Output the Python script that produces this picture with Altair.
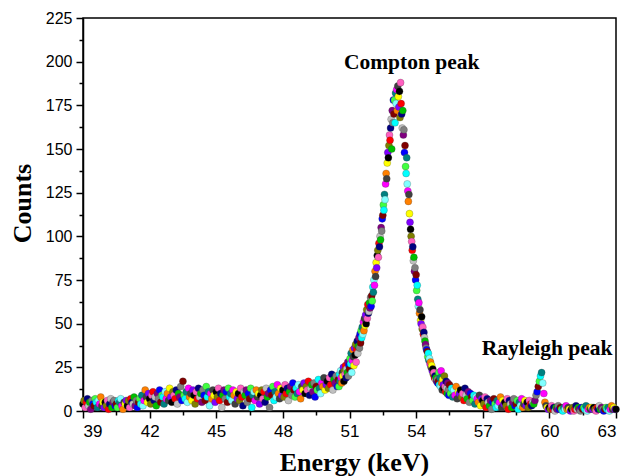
import altair as alt
import pandas as pd

# Counts
# 39.00 .. 50.45 keV, 0.05 keV channels
counts_low = [
    4, 6, 2, 5, 7, 3, 5, 1, 6, 4, 3, 7, 5, 2, 6, 4, 8, 3, 5, 2,
    5, 3, 6, 1, 4, 7, 2, 5, 6, 3, 4, 2, 6, 5, 7, 3, 1, 5, 4, 6,
    3, 6, 2, 7, 5, 4, 8, 3, 6, 2, 5, 7, 4, 9, 3, 6, 12, 8, 5, 10,
    7, 4, 9, 11, 6, 8, 3, 10, 7, 12, 5, 9, 8, 4, 11, 7, 10, 6, 13, 8,
    5, 11, 9, 7, 12, 4, 10, 8, 14, 6, 17, 9, 7, 11, 5, 13, 8, 10, 6, 12,
    9, 4, 11, 7, 13, 8, 10, 5, 12, 9, 6, 14, 8, 11, 3, 10, 7, 12, 9, 5,
    11, 8, 13, 6, 10, 2, 9, 12, 7, 11, 5, 13, 8, 10, 6, 12, 9, 4, 11, 7,
    10, 6, 13, 8, 3, 11, 9, 12, 5, 10, 7, 13, 2, 9, 11, 6, 12, 8, 10, 4,
    9, 12, 7, 11, 5, 13, 8, 10, 2, 12, 9, 14, 6, 11, 8, 15, 10, 7, 13, 9,
    12, 8, 15, 10, 13, 6, 11, 14, 9, 16, 12, 8, 13, 10, 15, 11, 7, 14, 12, 16,
    10, 14, 12, 17, 9, 13, 15, 11, 16, 8, 14, 12, 18, 13, 10, 16, 14, 19, 12, 15,
    17, 13, 19, 15, 21, 12, 18, 16, 20, 14,
]
# 50.500 .. 55.475 keV, 0.025 keV channels (Compton peak region)
counts_peak = [
    18, 14, 21, 17, 23, 19, 16, 22, 20, 25, 17, 23, 21, 26, 19, 24, 22, 28, 20, 26,
    24, 30, 27, 33, 22, 29, 35, 31, 26, 36, 32, 38, 28, 35, 40, 33, 37, 42, 36, 44,
    39, 46, 42, 48, 44, 51, 46, 53, 49, 55, 50, 58, 53, 61, 56, 57, 62, 59, 65, 60,
    66, 63, 71, 68, 75, 72, 80, 77, 85, 82, 89, 92, 88, 96, 94, 100, 98, 105, 103, 110,
    112, 118, 115, 124, 121, 130, 136, 133, 142, 148, 145, 152, 158, 155, 162, 167, 150, 172, 165, 178,
    170, 178, 165, 182, 176, 184, 172, 186, 180, 174, 183, 168, 188, 176, 170, 162, 172, 158, 161, 148,
    152, 140, 136, 145, 130, 126, 120, 124, 113, 108, 104, 100, 97, 92, 94, 86, 88, 80, 82, 75,
    78, 69, 72, 64, 60, 62, 56, 58, 52, 50, 54, 47, 48, 44, 45, 42, 40, 38, 36, 35,
    34, 31, 33, 29, 30, 27, 28, 25, 26, 23, 24, 21, 22, 19, 20, 18, 19, 17, 18, 16,
    17, 22, 15, 19, 14, 23, 16, 12, 18, 15, 13, 20, 14, 11, 17, 13, 10, 16, 12, 9,
]
# 55.50 .. 63.00 keV, 0.05 keV channels (incl. Rayleigh peak)
counts_high = [
    15, 10, 13, 8, 12, 9, 14, 7, 11, 10,
    12, 8, 10, 6, 13, 9, 7, 11, 5, 10, 8, 6, 9, 4, 8, 7, 5, 9, 3, 7,
    6, 4, 8, 2, 7, 5, 3, 6, 1, 5, 7, 4, 2, 6, 3, 5, 8, 2, 6, 4,
    5, 3, 7, 1, 6, 4, 2, 5, 7, 3, 4, 6, 1, 5, 3, 7, 2, 4, 6, 3,
    5, 2, 6, 4, 3, 5, 4, 6, 9, 11, 14, 17, 20, 22, 16, 10, 5, 3, 2, 1,
    2, 1, 3, 1, 2, 0, 2, 1, 3, 1, 2, 1, 0, 2, 1, 3, 1, 2, 1, 0,
    1, 2, 0, 1, 3, 1, 2, 1, 0, 2, 1, 2, 1, 3, 0, 1, 2, 1, 2, 1,
    2, 1, 0, 2, 1, 3, 1, 2, 1, 0, 1, 2, 1, 2, 0, 1, 3, 1, 2, 1,
    1,
]

x_ticks = [39, 42, 45, 48, 51, 54, 57, 60, 63]
x_minor = [40.5, 43.5, 46.5, 49.5, 52.5, 55.5, 58.5, 61.5]
y_ticks = [0, 25, 50, 75, 100, 125, 150, 175, 200, 225]
y_minor = [12.5, 37.5, 62.5, 87.5, 112.5, 137.5, 162.5, 187.5, 212.5]

ann_text = ["Compton peak", "Rayleigh peak"]
ann_e = [53.8, 59.9]
ann_c = [196, 32]

palette = ["#000000", "#FF0000", "#00C000", "#0000FF", "#00FFFF", "#FF00FF",
           "#FFFF00", "#808000", "#000080", "#800080", "#800000", "#008080",
           "#FF8000", "#8000FF", "#FF60C0", "#C0C0C0", "#808080", "#40FF40",
           "#80FFFF", "#404040"]

energies = ([round(39.0 + 0.05 * i, 3) for i in range(len(counts_low))]
            + [round(50.5 + 0.025 * i, 3) for i in range(len(counts_peak))]
            + [round(55.5 + 0.05 * i, 3) for i in range(len(counts_high))])
counts = counts_low + counts_peak + counts_high
cnames = [f"c{i}" for i in range(len(palette))]
df = pd.DataFrame({
    "E": energies,
    "C": counts,
    "k": [cnames[(i * 7) % len(palette)] for i in range(len(counts))],
})
ann = pd.DataFrame({"E": ann_e, "C": ann_c, "t": ann_text})

xs = alt.Scale(domain=[39, 63], nice=False, zero=False)
ys = alt.Scale(domain=[0, 225], nice=False)

common_axis = dict(grid=False, domainColor="black", domainWidth=1.5,
                   tickColor="black", tickWidth=1.5, labelColor="black",
                   labelFont="Liberation Sans",
                   titleFont="Liberation Serif", titleFontWeight="bold",
                   titleFontSize=26, titleColor="black")

points = alt.Chart(df).mark_circle(size=50, opacity=1, stroke="#333333",
                                   strokeWidth=0.25).encode(
    x=alt.X("E:Q", scale=xs, axis=alt.Axis(values=x_ticks, tickSize=7, labelFontSize=17,
                                           labelPadding=5, title="Energy (keV)",
                                           titleX=271, titleY=59,
                                           titleBaseline="alphabetic", **common_axis)),
    y=alt.Y("C:Q", scale=ys, axis=alt.Axis(values=y_ticks, tickSize=7, labelFontSize=16,
                                           labelPadding=4, title="Counts",
                                           titleX=-53, titleY=185,
                                           titleBaseline="alphabetic", **common_axis)),
    color=alt.Color("k:N", scale=alt.Scale(domain=cnames, range=palette), legend=None),
)

minor = alt.Chart(df).mark_point(opacity=0).encode(
    x=alt.X("E:Q", scale=xs, axis=alt.Axis(values=x_minor, orient="bottom", labels=False,
                                           domain=False, tickSize=4, title=None,
                                           grid=False, tickColor="black", tickWidth=1.5)),
    y=alt.Y("C:Q", scale=ys, axis=alt.Axis(values=y_minor, orient="left", labels=False,
                                           domain=False, tickSize=4, title=None,
                                           grid=False, tickColor="black", tickWidth=1.5)),
)

texts = alt.Chart(ann).mark_text(font="Liberation Serif", fontWeight="bold",
                                 fontSize=21.5, color="black",
                                 baseline="alphabetic").encode(
    x=alt.X("E:Q", scale=xs, axis=None),
    y=alt.Y("C:Q", scale=ys, axis=None),
    text="t:N",
)

chart = alt.layer(points, minor, texts).resolve_axis(
    x="independent", y="independent"
).properties(
    width=533, height=393,
    padding={"left": 83, "top": 18, "right": 11, "bottom": 65},
    autosize=alt.AutoSizeParams(type="none"),
).configure_view(stroke="black", strokeWidth=1.5)

chart.save("out.html", embed_options={"renderer": "svg", "actions": False})
